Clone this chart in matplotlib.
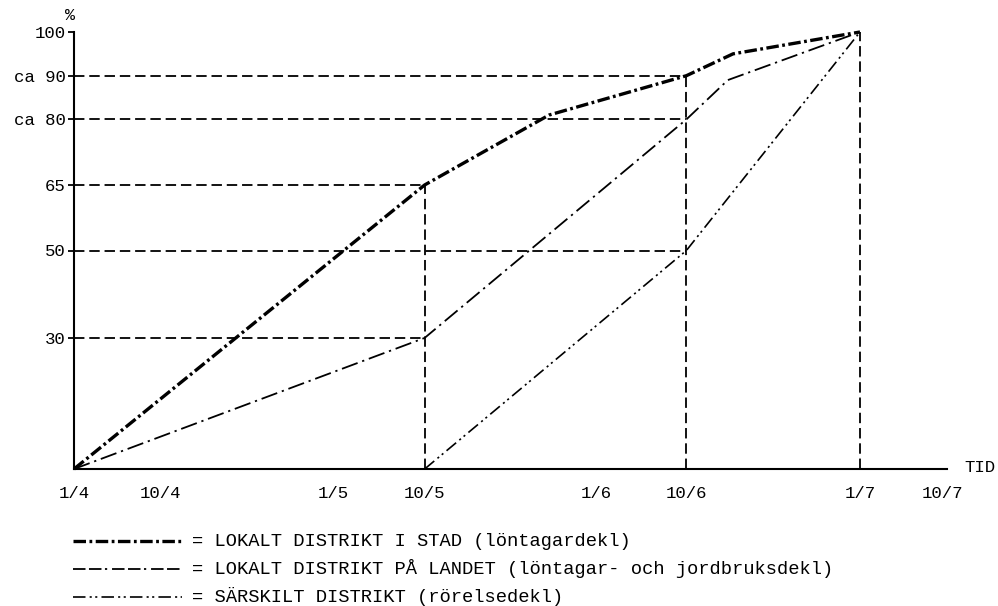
import matplotlib
matplotlib.use("Agg")
import matplotlib.pyplot as plt
from matplotlib.lines import Line2D

plt.rcParams['lines.scale_dashes'] = False
FONT = ['Liberation Mono', 'DejaVu Sans Mono']
plt.rcParams['font.family'] = FONT

# ---- data (x in days after 1/4, as drawn) ----
tick_labels = ["1/4", "10/4", "1/5", "10/5", "1/6", "10/6", "1/7", "10/7"]
tick_pos = [0, 10, 30, 40.6, 60.5, 70.9, 91, 100.5]

ytick_vals = [30, 50, 65, 80, 90, 100]
ytick_labels = ["30", "50", "65", "ca 80", "ca 90", "100"]

stad_x = [0, 40.6, 55, 70.9, 76.3, 91]
stad_y = [0, 65, 81, 90, 95, 100]

landet_x = [0, 40.6, 70.9, 75.7, 91]
landet_y = [0, 30, 80, 89, 100]

sarsk_x = [40.6, 70.9, 91]
sarsk_y = [0, 50, 100]

legend_labels = [
    "= LOKALT DISTRIKT I STAD (löntagardekl)",
    "= LOKALT DISTRIKT PÅ LANDET (löntagar- och jordbruksdekl)",
    "= SÄRSKILT DISTRIKT (rörelsedekl)",
]

# ---- styles ----
st_stad = dict(color='black', lw=2.4, linestyle=(0, (9, 2.5, 2, 2.5)))
st_landet = dict(color='black', lw=1.3, linestyle=(0, (12, 3.5, 1.6, 3.5)))
st_sarsk = dict(color='black', lw=1.2, linestyle=(0, (9, 3, 1.5, 2.5, 1.5, 3)))
st_guide = dict(color='black', lw=1.3, linestyle=(0, (7.5, 3.5)))

fig = plt.figure(figsize=(9.98, 6.06), dpi=100)
W, H = 998, 606
ax_left, ax_right, ax_bottom, ax_top = 74, 947, 469, 32
ax = fig.add_axes([ax_left / W, 1 - ax_bottom / H, (ax_right - ax_left) / W, (ax_bottom - ax_top) / H])

px_per_day = (860 - 74) / 91.0
xmax = (ax_right - ax_left) / px_per_day
ax.set_xlim(0, xmax)
ax.set_ylim(0, 100)

# guide lines derived from the series values at 10/5, 10/6, 1/7
x105 = tick_pos[3]
x106 = tick_pos[5]
x17 = tick_pos[6]
v105 = [stad_y[stad_x.index(x105)], landet_y[landet_x.index(x105)]]
v106 = [stad_y[stad_x.index(x106)], landet_y[landet_x.index(x106)], sarsk_y[sarsk_x.index(x106)]]
for v in v105:
    ax.plot([0, x105], [v, v], **st_guide, clip_on=False)
for v in v106:
    ax.plot([0, x106], [v, v], **st_guide, clip_on=False)
ax.plot([x105, x105], [0, max(v105)], **st_guide, clip_on=False)
ax.plot([x106, x106], [0, max(v106)], **st_guide, clip_on=False)
ax.plot([x17, x17], [0, stad_y[-1]], **st_guide, clip_on=False)

ax.plot(stad_x, stad_y, **st_stad, clip_on=False, zorder=4)
ax.plot(landet_x, landet_y, **st_landet, clip_on=False, zorder=3)
ax.plot(sarsk_x, sarsk_y, **st_sarsk, clip_on=False, zorder=3)

# axes styling
for s in ['top', 'right']:
    ax.spines[s].set_visible(False)
for s in ['left', 'bottom']:
    ax.spines[s].set_linewidth(1.5)

ax.set_xticks(tick_pos)
ax.set_xticklabels(tick_labels, fontsize=12.5)
ax.tick_params(axis='x', which='major', length=0, pad=12)
ax.set_xticks(tick_pos[1:7], minor=True)
ax.tick_params(axis='x', which='minor', length=7, width=1.3, direction='out')

ax.set_yticks(ytick_vals)
ax.set_yticklabels(ytick_labels, fontsize=12.5)
ax.tick_params(axis='y', which='major', length=4, width=1.3, pad=2)

fig.text(70 / W, 1 - 16 / H, "%", fontsize=12, ha='center', va='center', family=FONT)
fig.text(964 / W, 1 - 467 / H, "TID", fontsize=12.5, ha='left', va='center', family=FONT)

# legend drawn manually
leg_styles = [
    st_stad,
    dict(color='black', lw=1.3, linestyle=(0, (9, 2.5, 9, 2.5, 1.6, 3.5))),
    st_sarsk,
]
leg_rows = [541, 569, 597]
for sty, lab, yr in zip(leg_styles, legend_labels, leg_rows):
    yy = 1 - yr / H
    fig.add_artist(Line2D([73 / W, 182 / W], [yy, yy], transform=fig.transFigure, **sty))
    fig.text(192 / W, yy, lab, fontsize=13.5, ha='left', va='center', family=FONT)

fig.savefig("out.png", dpi=100)
